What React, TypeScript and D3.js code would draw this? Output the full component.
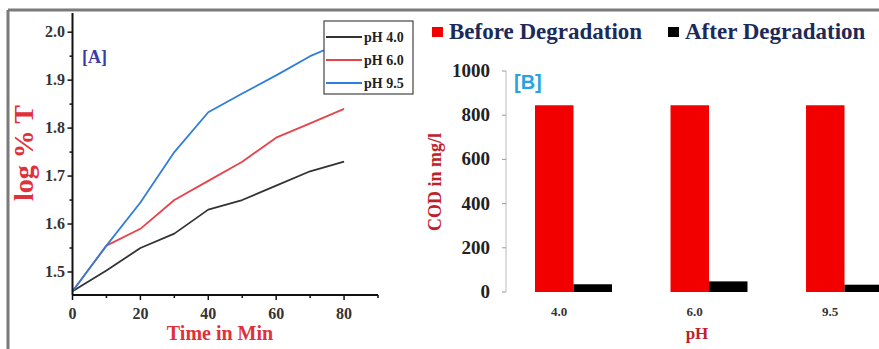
import React, { useEffect, useRef } from "react";
import * as d3 from "d3";

// panel A: log % T vs time
const times = [0, 10, 20, 30, 40, 50, 60, 70, 80];
const ph40 = [1.46, 1.503, 1.55, 1.58, 1.63, 1.65, 1.68, 1.71, 1.73];
const ph60 = [1.46, 1.555, 1.59, 1.65, 1.69, 1.73, 1.78, 1.81, 1.84];
const ph95 = [1.46, 1.555, 1.645, 1.75, 1.833, 1.872, 1.91, 1.95, 1.98];
const seriesNames = ["pH 4.0", "pH 6.0", "pH 9.5"];
const seriesColors = ["#333333", "#e8434a", "#2f7fd8"];
const xTicksA = [0, 20, 40, 60, 80];
const yTicksA = [1.5, 1.6, 1.7, 1.8, 1.9, 2.0];

// panel B: COD before / after
const phCategories = ["4.0", "6.0", "9.5"];
const codBefore = [845, 845, 845];
const codAfter = [35, 48, 33];
const barSeries = ["Before Degradation", "After Degradation"];
const barColors = ["#f20000", "#000000"];
const yTicksB = [0, 200, 400, 600, 800, 1000];

const W = 879;
const H = 349;

const App = () => {
  const ref: any = useRef();

  useEffect(() => {
    const svg = d3.select(ref.current);
    svg.selectAll("*").remove();
    const serif = "'Liberation Serif', 'DejaVu Serif', serif";

    svg.append("rect").attr("width", W).attr("height", H).attr("fill", "#fff");

    // outer frame
    svg.append("line").attr("x1", 8).attr("x2", W).attr("y1", 10).attr("y2", 10)
      .attr("stroke", "#7a7a7a").attr("stroke-width", 3);
    svg.append("line").attr("x1", 8).attr("x2", 8).attr("y1", 10).attr("y2", H)
      .attr("stroke", "#7a7a7a").attr("stroke-width", 3);

    // ---------- Panel A ----------
    const xA = d3.scaleLinear().domain([0, 90]).range([72.5, 378]);
    const yA = d3.scaleLinear().domain([1.452, 2.04]).range([295, 13]);
    const gA = svg.append("g");

    const lineGen = d3
      .line<[number, number]>()
      .x((d) => xA(d[0]))
      .y((d) => yA(d[1]));

    [ph40, ph60, ph95].forEach((vals, i) => {
      gA.append("path")
        .attr("d", lineGen(times.map((t, j) => [t, vals[j]]) as any))
        .attr("fill", "none")
        .attr("stroke", seriesColors[i])
        .attr("stroke-width", 1.8)
        .attr("stroke-linejoin", "round");
    });

    // axes
    gA.append("line").attr("x1", xA(0)).attr("x2", xA(90)).attr("y1", 295).attr("y2", 295)
      .attr("stroke", "#111").attr("stroke-width", 2);
    gA.append("line").attr("x1", xA(0)).attr("x2", xA(0)).attr("y1", 13).attr("y2", 295)
      .attr("stroke", "#111").attr("stroke-width", 2);

    d3.range(0, 91, 10).forEach((t) => {
      gA.append("line").attr("x1", xA(t)).attr("x2", xA(t))
        .attr("y1", 295).attr("y2", t % 20 === 0 ? 300 : 298)
        .attr("stroke", "#111").attr("stroke-width", 1.5);
    });
    xTicksA.forEach((t) => {
      gA.append("text").attr("x", xA(t)).attr("y", 319).attr("text-anchor", "middle")
        .attr("font-family", serif).attr("font-weight", "bold").attr("font-size", 16)
        .attr("fill", "#333").text(t);
    });
    d3.range(1.5, 2.01, 0.05).forEach((v) => {
      const major = Math.abs(Math.round(v * 10) - v * 10) < 0.01;
      gA.append("line").attr("x1", xA(0)).attr("x2", xA(0) - (major ? 5 : 3))
        .attr("y1", yA(v)).attr("y2", yA(v))
        .attr("stroke", "#111").attr("stroke-width", 1.5);
    });
    yTicksA.forEach((v) => {
      gA.append("text").attr("x", 65).attr("y", yA(v) + 5).attr("text-anchor", "end")
        .attr("font-family", serif).attr("font-weight", "bold").attr("font-size", 16)
        .attr("fill", "#333").text(v.toFixed(1));
    });

    gA.append("text").attr("transform", "translate(33,153) rotate(-90)")
      .attr("text-anchor", "middle").attr("font-family", serif).attr("font-weight", "bold")
      .attr("font-size", 28).attr("fill", "#e0303a").text("log % T");
    gA.append("text").attr("x", 220).attr("y", 340).attr("text-anchor", "middle")
      .attr("font-family", serif).attr("font-weight", "bold").attr("font-size", 20)
      .attr("fill", "#e0303a").text("Time in Min");
    gA.append("text").attr("x", 82).attr("y", 63)
      .attr("font-family", serif).attr("font-weight", "bold").attr("font-size", 18)
      .attr("fill", "#3a3aa8").text("[A]");

    // legend A
    const lg = gA.append("g");
    lg.append("rect").attr("x", 324).attr("y", 21).attr("width", 89).attr("height", 73)
      .attr("fill", "#fff").attr("stroke", "#444").attr("stroke-width", 1.2);
    seriesNames.forEach((s, i) => {
      const y = 37 + i * 23;
      lg.append("line").attr("x1", 326).attr("x2", 362).attr("y1", y).attr("y2", y)
        .attr("stroke", seriesColors[i]).attr("stroke-width", 1.8);
      lg.append("text").attr("x", 364).attr("y", y + 5)
        .attr("font-family", serif).attr("font-weight", "bold").attr("font-size", 14)
        .attr("fill", "#222").text(s);
    });

    // ---------- Panel B ----------
    const yB = d3.scaleLinear().domain([0, 1000]).range([292, 71]);
    const xB = d3.scaleBand().domain(phCategories).range([535, 883])
      .paddingInner(0.432).paddingOuter(0);
    const xSub = d3.scaleBand().domain(barSeries).range([0, xB.bandwidth()]);
    const gB = svg.append("g");

    gB.append("line").attr("x1", 506).attr("x2", 506).attr("y1", 71).attr("y2", 292)
      .attr("stroke", "#bbb").attr("stroke-width", 1);
    yTicksB.forEach((v) => {
      gB.append("line").attr("x1", 502).attr("x2", 506).attr("y1", yB(v)).attr("y2", yB(v))
        .attr("stroke", "#999").attr("stroke-width", 1);
      gB.append("text").attr("x", 490).attr("y", yB(v) + 6).attr("text-anchor", "end")
        .attr("font-family", serif).attr("font-weight", "bold").attr("font-size", 19)
        .attr("fill", "#222").text(v);
    });

    phCategories.forEach((c, i) => {
      const x0 = xB(c) || 0;
      [codBefore[i], codAfter[i]].forEach((v, k) => {
        gB.append("rect")
          .attr("x", x0 + (xSub(barSeries[k]) || 0))
          .attr("y", yB(v))
          .attr("width", xSub.bandwidth())
          .attr("height", yB(0) - yB(v))
          .attr("fill", barColors[k]);
      });
      gB.append("text").attr("x", x0 + 24).attr("y", 316).attr("text-anchor", "middle")
        .attr("font-family", serif).attr("font-weight", "bold").attr("font-size", 13)
        .attr("fill", "#333").text(c);
    });

    gB.append("text").attr("transform", "translate(441,182) rotate(-90)")
      .attr("text-anchor", "middle").attr("font-family", serif).attr("font-weight", "bold")
      .attr("font-size", 18).attr("fill", "#c0202a").text("COD in mg/l");
    gB.append("text").attr("x", 697).attr("y", 339).attr("text-anchor", "middle")
      .attr("font-family", serif).attr("font-weight", "bold").attr("font-size", 17)
      .attr("fill", "#c0202a").text("pH");
    gB.append("text").attr("x", 514).attr("y", 89)
      .attr("font-family", "'Liberation Sans', Arial, sans-serif").attr("font-weight", "bold")
      .attr("font-size", 20).attr("fill", "#29a3e0").text("[B]");

    // legend B
    const legX = [432, 668];
    barSeries.forEach((s, i) => {
      gB.append("rect").attr("x", legX[i]).attr("y", 27).attr("width", 11).attr("height", 10)
        .attr("fill", barColors[i]);
      gB.append("text").attr("x", legX[i] + 17).attr("y", 39)
        .attr("font-family", serif).attr("font-weight", "bold").attr("font-size", 23)
        .attr("fill", "#1b2a5a").text(s);
    });
  }, []);

  return (
    <svg
      ref={ref}
      width={W}
      height={H}
      style={{ position: "absolute", left: 0, top: 0 }}
    ></svg>
  );
};

export default App;
